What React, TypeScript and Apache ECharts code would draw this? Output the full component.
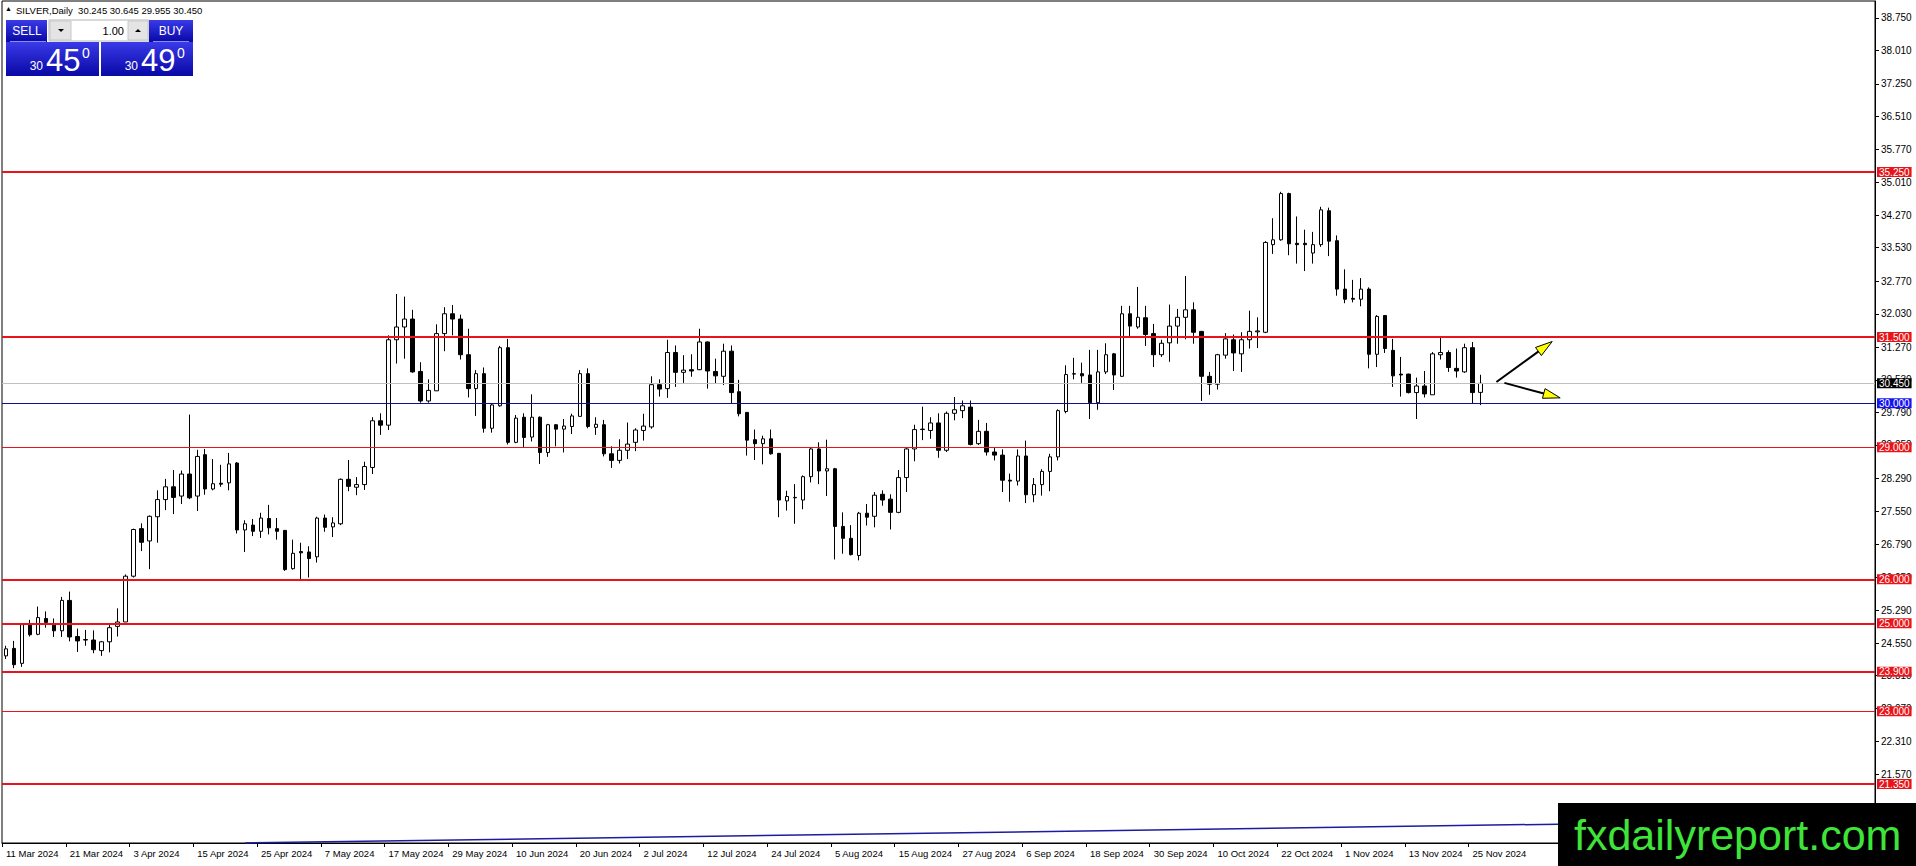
import React, { useEffect, useRef } from "react";
import * as echarts from "echarts";

// ---- trading calendar (broker days shown on the chart) ----
const tradingDays: [string, number[]][] = [
  ["Mar", [11, 12, 13, 14, 15, 18, 19, 20, 21, 22, 25, 26, 27, 28]],
  ["Apr", [1, 2, 3, 4, 5, 8, 9, 10, 11, 12, 15, 16, 17, 18, 19, 22, 23, 24, 25, 26, 29, 30]],
  ["May", [1, 2, 3, 6, 7, 8, 9, 10, 13, 14, 15, 16, 17, 20, 21, 22, 23, 24, 27, 28, 29, 30, 31]],
  ["Jun", [3, 4, 5, 6, 7, 10, 11, 12, 13, 14, 17, 18, 19, 20, 21, 24, 25, 26, 27, 28]],
  ["Jul", [1, 2, 3, 4, 5, 8, 9, 10, 11, 12, 15, 16, 17, 18, 19, 22, 23, 24, 25, 26, 29, 30, 31]],
  ["Aug", [1, 2, 5, 6, 7, 8, 9, 12, 13, 14, 15, 16, 19, 20, 21, 22, 23, 26, 27, 28, 29, 30]],
  ["Sep", [2, 3, 4, 5, 6, 9, 10, 11, 12, 13, 16, 17, 18, 19, 20, 23, 24, 25, 26, 27, 30]],
  ["Oct", [1, 2, 3, 4, 7, 8, 9, 10, 11, 14, 15, 16, 17, 18, 21, 22, 23, 24, 25, 28, 29, 30, 31]],
  ["Nov", [1, 4, 5, 6, 7, 8, 11, 12, 13, 14, 15, 18, 19, 20, 21, 22, 25, 26]],
];
const dates: string[] = tradingDays.flatMap(([m, ds]) => ds.map((d) => `${d} ${m} 2024`));
const futureSlots = 49; // empty shift area to the right of the last bar

// ---- OHLC (SILVER, Daily) ----
const opens = [
  24.26, 24.43, 24.09, 24.97, 24.75, 25.11, 24.98, 24.83, 25.52, 24.70,
  24.63, 24.62, 24.38, 24.58, 24.93, 25.03, 26.07, 27.15, 26.87, 27.42,
  27.81, 28.10, 27.89, 28.39, 27.89, 28.83, 28.05, 28.18, 28.19, 28.64,
  27.12, 27.23, 27.09, 27.38, 27.15, 27.11, 26.24, 26.63, 26.62, 26.51,
  27.39, 27.19, 27.26, 28.27, 28.09, 28.15, 28.54, 29.60, 29.50, 31.44,
  31.73, 31.91, 30.72, 30.05, 30.28, 31.58, 32.03, 31.91, 31.10, 30.33,
  30.67, 29.43, 29.94, 31.26, 29.11, 29.68, 29.23, 29.68, 28.88, 29.51,
  29.41, 29.47, 29.70, 30.67, 29.45, 29.51, 28.85, 28.70, 28.93, 29.11,
  29.38, 29.46, 30.42, 30.33, 31.15, 30.70, 30.76, 30.76, 31.39, 30.72,
  30.61, 31.18, 30.26, 29.79, 29.17, 29.08, 29.19, 28.86, 27.78, 27.85,
  27.80, 28.33, 28.96, 28.46, 28.51, 27.20, 26.93, 26.54, 27.50, 27.43,
  27.93, 27.82, 27.52, 28.31, 28.96, 29.40, 29.38, 29.55, 28.93, 29.77,
  29.83, 29.91, 29.08, 29.36, 28.89, 28.82, 28.25, 28.23, 28.80, 27.92,
  28.15, 28.45, 28.78, 29.81, 30.66, 30.67, 30.64, 30.01, 30.71, 31.12,
  30.61, 32.03, 31.73, 31.94, 31.58, 31.10, 31.37, 31.75, 31.95, 32.12,
  31.63, 30.61, 30.43, 31.09, 31.44, 31.12, 31.44, 31.62, 31.61, 33.60,
  33.71, 34.76, 33.63, 33.63, 33.41, 33.60, 34.37, 33.69, 32.59, 32.38,
  32.36, 32.59, 31.11, 31.99, 31.20, 30.66, 30.66, 30.24, 30.39, 30.19,
  31.10, 31.15, 30.79, 30.71, 31.26, 30.245,
];
const highs = [
  24.49, 24.60, 24.98, 25.08, 25.38, 25.27, 25.11, 25.60, 25.72, 24.88,
  24.85, 24.84, 24.60, 24.97, 25.34, 26.11, 27.15, 27.27, 27.45, 28.02,
  28.28, 28.48, 28.47, 29.74, 28.94, 28.96, 28.73, 28.60, 28.87, 28.66,
  27.34, 27.37, 27.51, 27.69, 27.39, 27.12, 26.90, 26.83, 26.75, 27.42,
  27.47, 27.41, 28.29, 28.71, 28.32, 28.67, 29.68, 29.77, 31.54, 32.48,
  32.42, 32.12, 30.93, 30.54, 31.79, 32.18, 32.23, 32.01, 31.69, 30.75,
  30.81, 29.99, 31.30, 31.46, 29.73, 29.77, 30.20, 29.70, 29.53, 29.52,
  29.64, 29.76, 30.75, 30.79, 29.68, 29.62, 29.02, 29.18, 29.56, 29.43,
  29.76, 30.61, 30.54, 31.44, 31.31, 31.09, 31.11, 31.69, 31.40, 31.01,
  31.35, 31.31, 30.53, 29.80, 29.40, 29.26, 29.40, 28.87, 28.01, 28.16,
  28.36, 28.98, 29.11, 29.17, 28.53, 27.52, 27.23, 27.53, 27.71, 27.98,
  28.02, 27.93, 28.48, 28.98, 29.51, 29.92, 29.68, 29.77, 29.81, 30.14,
  30.06, 30.06, 29.62, 29.55, 28.98, 28.95, 28.40, 28.95, 29.15, 28.30,
  28.50, 28.85, 29.86, 30.86, 31.03, 30.92, 31.21, 31.21, 31.36, 31.14,
  32.21, 32.21, 32.64, 32.21, 31.80, 31.44, 32.24, 32.14, 32.89, 32.29,
  31.64, 30.71, 31.12, 31.59, 31.56, 31.61, 32.10, 31.95, 33.68, 34.20,
  34.80, 34.78, 34.24, 33.94, 33.89, 34.46, 34.44, 33.81, 33.04, 32.80,
  32.84, 32.63, 32.00, 32.00, 31.46, 31.05, 30.67, 30.58, 30.73, 31.16,
  31.50, 31.20, 31.24, 31.35, 31.39, 30.645,
];
const lows = [
  24.19, 23.98, 24.01, 24.70, 24.73, 24.90, 24.69, 24.69, 24.59, 24.35,
  24.49, 24.32, 24.26, 24.34, 24.70, 25.03, 26.04, 26.64, 26.23, 26.83,
  27.57, 27.48, 27.71, 27.82, 27.55, 27.92, 28.02, 28.10, 28.02, 27.04,
  26.62, 26.98, 26.94, 27.02, 26.90, 26.19, 26.22, 25.98, 26.04, 26.38,
  27.08, 26.96, 27.23, 28.00, 27.91, 28.03, 28.39, 29.28, 29.39, 30.90,
  31.01, 30.69, 30.01, 30.01, 30.28, 31.18, 31.54, 30.99, 30.13, 29.71,
  29.33, 29.33, 29.92, 29.06, 29.09, 29.00, 29.13, 28.62, 28.78, 29.02,
  28.88, 29.30, 29.70, 29.43, 29.28, 28.79, 28.53, 28.63, 28.73, 28.91,
  29.15, 29.42, 30.15, 30.12, 30.37, 30.46, 30.60, 30.75, 30.33, 30.45,
  30.41, 30.00, 29.70, 28.81, 28.71, 28.61, 28.83, 27.41, 27.56, 27.26,
  27.59, 28.20, 28.16, 27.89, 26.45, 26.58, 26.54, 26.43, 27.22, 27.18,
  27.67, 27.13, 27.50, 27.98, 28.68, 29.16, 29.19, 28.76, 28.89, 29.61,
  29.66, 29.04, 29.05, 28.81, 28.70, 27.98, 27.76, 28.13, 27.73, 27.75,
  27.90, 28.00, 28.70, 29.77, 30.54, 30.46, 29.64, 29.85, 30.66, 30.30,
  30.60, 31.52, 31.69, 31.30, 30.82, 31.05, 30.94, 31.35, 31.45, 31.35,
  30.05, 30.19, 30.31, 31.01, 30.73, 30.71, 31.24, 31.25, 31.59, 33.39,
  33.69, 33.36, 33.17, 33.00, 33.17, 33.55, 33.34, 32.44, 32.27, 32.29,
  32.20, 30.79, 30.82, 31.14, 30.37, 30.15, 30.22, 29.64, 30.13, 30.19,
  30.99, 30.71, 30.58, 30.69, 30.00, 29.955,
];
const closes = [
  24.42, 24.06, 24.97, 24.74, 25.13, 25.02, 24.83, 25.52, 24.69, 24.60,
  24.62, 24.40, 24.58, 24.90, 25.03, 26.07, 27.13, 26.84, 27.43, 27.81,
  28.10, 27.86, 28.39, 27.85, 28.79, 28.05, 28.17, 28.16, 28.62, 27.12,
  27.26, 27.09, 27.39, 27.17, 27.09, 26.22, 26.59, 26.60, 26.47, 27.39,
  27.18, 27.28, 28.27, 28.11, 28.15, 28.56, 29.60, 29.50, 31.44, 31.73,
  31.91, 30.71, 30.05, 30.29, 31.58, 32.03, 31.91, 31.10, 30.33, 30.67,
  29.43, 29.96, 31.26, 29.11, 29.66, 29.22, 29.68, 28.88, 29.51, 29.41,
  29.48, 29.71, 30.67, 29.47, 29.52, 28.85, 28.70, 28.93, 29.07, 29.39,
  29.48, 30.42, 30.32, 31.15, 30.70, 30.75, 30.73, 31.39, 30.73, 30.62,
  31.18, 30.24, 29.76, 29.16, 29.08, 29.19, 28.85, 27.80, 27.88, 27.86,
  28.33, 28.96, 28.46, 28.51, 27.20, 26.93, 26.56, 27.50, 27.41, 27.91,
  27.80, 27.52, 28.31, 28.96, 29.40, 29.41, 29.55, 28.93, 29.77, 29.85,
  29.94, 29.06, 29.36, 28.89, 28.82, 28.25, 28.23, 28.80, 27.92, 28.15,
  28.45, 28.78, 29.83, 30.65, 30.67, 30.62, 30.01, 30.71, 31.10, 30.64,
  32.03, 31.75, 31.95, 31.56, 31.10, 31.36, 31.75, 31.95, 32.12, 31.61,
  30.61, 30.43, 31.10, 31.46, 31.14, 31.44, 31.63, 31.64, 33.65, 33.71,
  34.76, 33.62, 33.60, 33.60, 33.60, 34.39, 33.68, 32.59, 32.36, 32.36,
  32.59, 31.11, 31.97, 31.24, 30.62, 30.64, 30.24, 30.39, 30.21, 31.12,
  31.15, 30.81, 30.73, 31.26, 30.24, 30.45,
];

// ---- price scale labels (MT4 style) ----
const yTickLabels = [
  38.75, 38.01, 37.25, 36.51, 35.77, 35.01, 34.27, 33.53, 32.77, 32.03, 31.27, 30.53,
  29.79, 29.05, 28.29, 27.55, 26.79, 26.05, 25.29, 24.55, 23.81, 23.07, 22.31, 21.57,
];
const yMin = 20.01;
const yMax = 39.134;

// ---- drawn levels / objects ----
const thickRedLevels = [35.25, 31.5, 26.0, 25.0, 23.9, 21.35];
const thinRedLevels = [29.0, 23.0];
const supportLevel = 30.0;
const bidPrice = 30.45;
const askPrice = 30.49;
const trendStart = [30, 20.01];
const trendEnd = [234, 20.54];
const arrowUp = [187, 30.48, 194, 31.4];
const arrowDown = [188, 30.46, 195, 30.12];

const RED = "#e8141a";
const FONT = "'Liberation Sans', Arial, sans-serif";

function App() {
  const ref = useRef<HTMLDivElement>(null);
  useEffect(() => {
    if (!ref.current) return;
    const chart = echarts.init(ref.current, null, { renderer: "svg" });

    const categories = [...dates, ...Array(futureSlots).fill("")];
    const candles = dates.map((_, i) => [opens[i], closes[i], lows[i], highs[i]]);

    const levelLabel = (bg: string) => ({
      show: true,
      position: "end",
      distance: 2,
      formatter: (p: any) => Number(p.value).toFixed(3),
      color: "#fff",
      backgroundColor: bg,
      fontFamily: FONT,
      fontSize: 10,
      lineHeight: 10,
      padding: [0, 2, 0, 2],
    });

    const markLineData: any[] = [
      ...thickRedLevels.map((v) => ({
        yAxis: v,
        lineStyle: { color: RED, width: 2, type: "solid" },
        label: levelLabel(RED),
      })),
      ...thinRedLevels.map((v) => ({
        yAxis: v,
        lineStyle: { color: RED, width: 1, type: "solid" },
        label: levelLabel(RED),
      })),
      {
        yAxis: bidPrice,
        lineStyle: { color: "#c0c0c0", width: 1, type: "solid" },
        label: levelLabel("#000"),
      },
      {
        yAxis: supportLevel,
        lineStyle: { color: "#10108a", width: 1, type: "solid" },
        label: levelLabel("#1414f0"),
      },
      [
        { coord: trendStart, lineStyle: { color: "#1c1ca0", width: 1.5, type: "solid" }, label: { show: false } },
        { coord: trendEnd },
      ],
    ];

    const blueGrad = () =>
      new echarts.graphic.LinearGradient(0, 0, 0, 1, [
        { offset: 0, color: "#3a3ae8" },
        { offset: 1, color: "#0808a6" },
      ]);

    const last = dates.length - 1;
    const headerText = `SILVER,Daily  ${opens[last].toFixed(3)} ${highs[last].toFixed(3)} ${lows[last].toFixed(3)} ${closes[last].toFixed(3)}`;
    const bidStr = bidPrice.toFixed(3);
    const askStr = askPrice.toFixed(3);

    const white = { fill: "#fff", fontFamily: FONT };
    const labelEvery = (i: number) => i % 8 === 0 && i < dates.length;

    chart.setOption({
      animation: false,
      backgroundColor: "#fff",
      grid: { left: 2, right: 41, top: 1, bottom: 23, show: true, borderColor: "#000", borderWidth: 1 },
      xAxis: {
        type: "category",
        data: categories,
        boundaryGap: true,
        axisLine: { show: true, lineStyle: { color: "#000" } },
        axisTick: {
          show: true,
          length: 4,
          interval: labelEvery,
          lineStyle: { color: "#000" },
        },
        axisLabel: {
          interval: labelEvery,
          align: "left",
          color: "#000",
          fontFamily: FONT,
          fontSize: 9.5,
          margin: 5,
        },
        splitLine: { show: false },
      },
      yAxis: {
        type: "value",
        position: "right",
        min: yMin,
        max: yMax,
        scale: true,
        axisLine: { show: true, lineStyle: { color: "#000" } },
        axisTick: { show: true, length: 4, customValues: yTickLabels, lineStyle: { color: "#000" } },
        axisLabel: {
          customValues: yTickLabels,
          formatter: (v: number) => v.toFixed(3),
          color: "#000",
          fontFamily: FONT,
          fontSize: 10,
          margin: 6,
        },
        splitLine: { show: false },
      },
      series: [
        {
          type: "candlestick",
          data: candles,
          barWidth: 4,
          itemStyle: {
            color: "#fff",
            color0: "#000",
            borderColor: "#000",
            borderColor0: "#000",
            borderWidth: 1,
          },
          markLine: {
            silent: true,
            symbol: ["none", "none"],
            animation: false,
            data: markLineData,
          },
          z: 3,
        },
        {
          type: "custom",
          clip: false,
          silent: true,
          z: 5,
          data: [arrowUp, arrowDown],
          renderItem: (params: any, api: any) => {
            const s = api.coord([api.value(0), api.value(1)]);
            const e = api.coord([api.value(2), api.value(3)]);
            const dx = e[0] - s[0];
            const dy = e[1] - s[1];
            const len = Math.hypot(dx, dy) || 1;
            const ux = dx / len;
            const uy = dy / len;
            const headLen = 17;
            const headW = 5;
            const bx = e[0] - ux * headLen;
            const by = e[1] - uy * headLen;
            const px = -uy;
            const py = ux;
            return {
              type: "group",
              children: [
                {
                  type: "line",
                  shape: { x1: s[0], y1: s[1], x2: bx + ux * 4, y2: by + uy * 4 },
                  style: { stroke: "#000", lineWidth: 2 },
                },
                {
                  type: "polygon",
                  shape: {
                    points: [
                      [e[0], e[1]],
                      [bx + px * headW, by + py * headW],
                      [bx - px * headW, by - py * headW],
                    ],
                  },
                  style: { fill: "#ffff00", stroke: "#000", lineWidth: 1 },
                },
              ],
            };
          },
        },
      ],
      graphic: {
        elements: [
          // header
          {
            type: "text",
            left: 5,
            top: 5,
            z: 100,
            style: { text: "▲", fill: "#000", font: `7px ${FONT}` },
          },
          {
            type: "text",
            left: 16,
            top: 5,
            z: 100,
            style: { text: headerText, fill: "#000", fontFamily: FONT, fontSize: 9.5 },
          },
          // SELL header
          { type: "rect", z: 100, shape: { x: 6, y: 20, width: 41, height: 22 }, style: { fill: blueGrad() } },
          { type: "line", z: 101, shape: { x1: 10, y1: 41.5, x2: 46, y2: 41.5 }, style: { stroke: "#8c8cf0", lineWidth: 1 } },
          { type: "text", z: 101, x: 27, y: 31, style: { ...white, text: "SELL", fontSize: 12, align: "center", verticalAlign: "middle" } },
          // spinner
          { type: "rect", z: 100, shape: { x: 49, y: 20, width: 100, height: 21 }, style: { fill: "#fff", stroke: "#b4b4b4", lineWidth: 1 } },
          { type: "rect", z: 101, shape: { x: 50, y: 21, width: 21, height: 19 }, style: { fill: "#e4e4e4", stroke: "#c8c8c8" } },
          { type: "rect", z: 101, shape: { x: 128, y: 21, width: 20, height: 19 }, style: { fill: "#e4e4e4", stroke: "#c8c8c8" } },
          { type: "polygon", z: 102, shape: { points: [[58, 29], [64, 29], [61, 32]] }, style: { fill: "#000" } },
          { type: "polygon", z: 102, shape: { points: [[135, 32], [141, 32], [138, 29]] }, style: { fill: "#000" } },
          { type: "text", z: 101, x: 124, y: 31, style: { text: "1.00", fill: "#000", fontFamily: FONT, fontSize: 11, align: "right", verticalAlign: "middle" } },
          // BUY header
          { type: "rect", z: 100, shape: { x: 149, y: 20, width: 44, height: 22 }, style: { fill: blueGrad() } },
          { type: "line", z: 101, shape: { x1: 153, y1: 41.5, x2: 189, y2: 41.5 }, style: { stroke: "#8c8cf0", lineWidth: 1 } },
          { type: "text", z: 101, x: 171, y: 31, style: { ...white, text: "BUY", fontSize: 12, align: "center", verticalAlign: "middle" } },
          // price boxes
          { type: "rect", z: 100, shape: { x: 6, y: 42, width: 93, height: 34 }, style: { fill: blueGrad() } },
          { type: "rect", z: 100, shape: { x: 101, y: 42, width: 92, height: 34 }, style: { fill: blueGrad() } },
          { type: "text", z: 101, x: 43, y: 66, style: { ...white, text: bidStr.slice(0, 2), fontSize: 12, align: "right", verticalAlign: "middle" } },
          { type: "text", z: 101, x: 46, y: 60, style: { ...white, text: bidStr.slice(3, 5), fontSize: 31, align: "left", verticalAlign: "middle" } },
          { type: "text", z: 101, x: 86, y: 53, style: { ...white, text: bidStr.slice(5, 6), fontSize: 14, align: "center", verticalAlign: "middle" } },
          { type: "text", z: 101, x: 138, y: 66, style: { ...white, text: askStr.slice(0, 2), fontSize: 12, align: "right", verticalAlign: "middle" } },
          { type: "text", z: 101, x: 141, y: 60, style: { ...white, text: askStr.slice(3, 5), fontSize: 31, align: "left", verticalAlign: "middle" } },
          { type: "text", z: 101, x: 181, y: 53, style: { ...white, text: askStr.slice(5, 6), fontSize: 14, align: "center", verticalAlign: "middle" } },
          // watermark
          { type: "rect", z: 200, shape: { x: 1558, y: 803, width: 358, height: 63 }, style: { fill: "#000" } },
          {
            type: "text",
            z: 201,
            x: 1574,
            y: 835,
            style: { text: "fxdailyreport.com", fill: "#3fe43a", fontFamily: FONT, fontSize: 43, verticalAlign: "middle" },
          },
        ],
      },
    });
    return () => chart.dispose();
  }, []);
  return <div ref={ref} style={{ position: "fixed", left: 0, top: 0, width: 1916, height: 866, background: "#fff" }} />;
}

export default App;
